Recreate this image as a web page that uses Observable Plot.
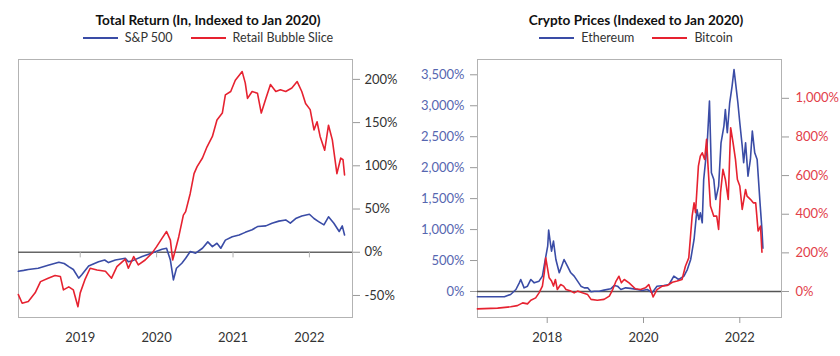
<!DOCTYPE html>
<html>
<head>
<meta charset="utf-8">
<script src="https://cdn.jsdelivr.net/npm/d3@7"></script>
<script src="https://cdn.jsdelivr.net/npm/@observablehq/plot@0.6"></script>
<style>
  body { margin: 0; background: #fff; font-family: Lato, "Open Sans", sans-serif; }
  #wrap { display: flex; width: 840px; height: 356px; }
  .panel { position: relative; width: 420px; height: 356px; }
  .title { position: absolute; top: 12px; left: 0; width: 420px; text-align: center;
           font-weight: 700; font-size: 13.6px; line-height: 16px; color: #111; }
  .legend { position: absolute; top: 31px; left: 0; width: 420px; display: flex;
            justify-content: center; align-items: center; font-size: 12.5px; line-height: 14px; color: #333; }
  .item { display: flex; align-items: center; margin: 0 9px; }
  .sw { display: inline-block; width: 35px; height: 2px; margin-right: 7px; }
  .chart { position: absolute; top: 50px; left: 0; }
</style>
</head>
<body>
<div id="wrap">
  <div class="panel" id="p1">
    <div class="title" style="padding-right:4px;box-sizing:border-box">Total Return (In, Indexed to Jan 2020)</div>
    <div class="legend" id="leg1" style="padding-right:4px;box-sizing:border-box"></div>
    <div class="chart" id="c1"></div>
  </div>
  <div class="panel" id="p2">
    <div class="title" style="padding-left:12px;box-sizing:border-box">Crypto Prices (Indexed to Jan 2020)</div>
    <div class="legend" id="leg2" style="padding-left:12px;box-sizing:border-box"></div>
    <div class="chart" id="c2"></div>
  </div>
</div>
<script>
// ---------------- Left panel data (decimal years, % vs Jan 2020) ----------------
const spxYears = [2018.19,2018.26,2018.32,2018.45,2018.58,2018.72,2018.79,2018.85,2018.91,2018.98,
  2019.02,2019.11,2019.24,2019.32,2019.37,2019.46,2019.59,2019.63,2019.68,2019.81,2019.94,
  2020.07,2020.13,2020.18,2020.22,2020.26,2020.33,2020.38,2020.44,2020.51,2020.60,2020.67,2020.73,
  2020.79,2020.84,2020.90,2020.99,2021.08,2021.16,2021.25,2021.32,2021.43,2021.51,2021.60,2021.69,
  2021.75,2021.82,2021.90,2022.00,2022.06,2022.12,2022.19,2022.25,2022.32,2022.39,2022.43,2022.46];
const spxValues = [-22,-21,-20,-18.5,-15,-11.5,-13,-16.6,-20,-30,
  -26,-16,-11,-9,-12,-9,-7,-11,-10,-5,-1,
  3.5,4.6,-9,-32,-18.5,-12.7,-7,0.8,-1,4.6,12,6.5,
  10.4,4.6,14,18,20,23,26,29.7,30.5,33.6,36,37.4,
  33.6,39,42,44,39,35.5,31.6,41,33.6,24,30.5,20];

const retailYears = [2018.19,2018.24,2018.32,2018.41,2018.48,2018.58,2018.67,2018.74,2018.78,2018.85,
  2018.91,2018.97,2019.00,2019.06,2019.13,2019.22,2019.33,2019.41,2019.48,2019.59,2019.63,2019.70,
  2019.76,2019.85,2019.94,2020.00,2020.07,2020.13,2020.18,2020.21,2020.24,2020.29,2020.35,2020.38,
  2020.44,2020.49,2020.53,2020.60,2020.66,2020.73,2020.79,2020.86,2020.90,2020.97,2021.03,2021.12,
  2021.16,2021.19,2021.25,2021.32,2021.37,2021.43,2021.49,2021.56,2021.62,2021.69,2021.77,2021.84,
  2021.90,2021.95,2022.01,2022.06,2022.10,2022.14,2022.20,2022.25,2022.30,2022.36,2022.41,2022.44,2022.46];
const retailValues = [-49,-59,-57,-47,-34,-30,-27,-28,-43.6,-40,
  -43.6,-63,-47,-32,-18.5,-20.5,-22,-30,-16.6,-8,-18.5,-5,
  -14.7,-9,-1,6.5,16,24,14,-9,0.8,18,43,47,
  68,91,99,109,122,134,153,161,182,186,199,209,
  196,178,186,184,161,178,194,186,188,186,190,197.5,
  186,172,165,141.6,151,134,118,147,130,91,109,107,89.5];

const leftXTicks = [2019, 2020, 2021, 2022];
const leftYTicks = [-50, 0, 50, 100, 150, 200];

// ---------------- Right panel data ----------------
const ethYears = [2016.55,2017.11,2017.24,2017.35,2017.42,2017.45,2017.52,2017.59,2017.66,2017.73,
  2017.83,2017.90,2017.96,2018.01,2018.03,2018.06,2018.09,2018.13,2018.18,2018.25,2018.30,2018.35,
  2018.42,2018.49,2018.56,2018.63,2018.70,2018.77,2018.84,2018.91,2018.98,2019.08,2019.18,2019.32,
  2019.39,2019.46,2019.53,2019.63,2019.73,2019.87,2019.97,2020.08,2020.18,2020.28,2020.42,2020.53,
  2020.63,2020.73,2020.84,2020.91,2020.98,2021.05,2021.11,2021.15,2021.18,2021.22,2021.25,2021.32,
  2021.37,2021.41,2021.46,2021.50,2021.56,2021.61,2021.67,2021.70,2021.74,2021.79,2021.84,2021.88,
  2021.92,2021.96,2022.00,2022.05,2022.08,2022.12,2022.17,2022.22,2022.26,2022.31,2022.36,2022.42,
  2022.46,2022.48];
const ethValues = [-86,-86,-48,32,140,194,59,86,194,140,
  167,248,517,732,991,813,652,813,517,302,409,517,
  409,302,248,167,86,59,59,-5,5,5,22,43,
  97,86,32,59,50,32,16,32,-21,86,97,113,
  248,194,248,355,517,840,1325,1163,1271,1109,1809,2348,
  3075,1917,1809,1486,1702,2402,2671,2940,2563,3048,3317,3586,
  3317,3048,2725,2348,2079,2402,1863,2133,2590,2240,2133,1432,
  1000,700];

const btcYears = [2016.55,2016.97,2017.24,2017.38,2017.49,2017.59,2017.66,2017.76,2017.83,2017.90,
  2017.94,2017.97,2018.01,2018.04,2018.09,2018.13,2018.17,2018.21,2018.28,2018.34,2018.39,2018.49,
  2018.56,2018.63,2018.73,2018.84,2018.91,2019.04,2019.18,2019.29,2019.36,2019.43,2019.49,2019.54,
  2019.60,2019.70,2019.83,2019.94,2020.04,2020.11,2020.20,2020.28,2020.39,2020.49,2020.60,2020.70,
  2020.80,2020.87,2020.94,2021.01,2021.05,2021.08,2021.14,2021.18,2021.22,2021.27,2021.31,2021.34,
  2021.39,2021.46,2021.52,2021.56,2021.60,2021.65,2021.70,2021.76,2021.81,2021.86,2021.91,2021.95,
  2022.00,2022.05,2022.12,2022.15,2022.22,2022.28,2022.33,2022.38,2022.43,2022.46];
const btcValues = [-90,-86,-79,-73,-59,-64,-45,-33,-7,28,
  97,174,114,71,54,28,62,10,36,28,10,2,
  -7,2,-7,-16,-41,-45,-41,-24,10,54,79,45,
  62,45,14,10,19,36,-28,10,28,31,48,54,
  62,131,174,390,459,408,649,701,718,684,788,649,
  442,390,390,321,511,632,580,477,848,770,684,580,
  546,425,528,494,477,459,459,313,338,204];

const rightXTicks = [2018, 2020, 2022];
const ethTicks = [0, 500, 1000, 1500, 2000, 2500, 3000, 3500];
const btcTicks = [0, 200, 400, 600, 800, 1000];

// ---------------- styles ----------------
const BLUE = "#3a4ca6", RED = "#e62230";
const ETH_LABEL = "#5666b0", BTC_LABEL = "#e2404a";
const K = 3.12; // bitcoin % -> ethereum-axis units (shared zero)

const zip = (xs, ys) => xs.map((x, i) => ({year: x, value: ys[i]}));
const spx = zip(spxYears, spxValues);
const retail = zip(retailYears, retailValues);
const eth = zip(ethYears, ethValues);
const btc = zip(btcYears, btcValues);
const fmtPct = d => d.toLocaleString("en-US") + "%";
const baseStyle = {fontFamily: "Lato, 'Open Sans', sans-serif", fontSize: "13px", color: "#333", background: "transparent", overflow: "visible"};

function legend(el, items) {
  el.innerHTML = items.map(([c, t]) =>
    `<span class="item"><span class="sw" style="background:${c}"></span>${t}</span>`).join("");
}
legend(document.getElementById("leg1"), [[BLUE, "S&amp;P 500"], [RED, "Retail Bubble Slice"]]);
legend(document.getElementById("leg2"), [[BLUE, "Ethereum"], [RED, "Bitcoin"]]);

const left = Plot.plot({
  width: 420, height: 306,
  marginTop: 9, marginBottom: 39, marginLeft: 18, marginRight: 68,
  style: baseStyle,
  x: {domain: [2018.192, 2022.564], label: null},
  y: {domain: [-75.5, 223], label: null},
  marks: [
    Plot.frame({stroke: "#b3b3b3"}),
    Plot.ruleY([0], {stroke: "#666", strokeWidth: 1.3}),
    Plot.ruleX(leftXTicks, {x: d => d, y1: 0, y2: -6.5, stroke: "#b0b0b0"}),
    Plot.axisX(leftXTicks, {tickSize: 0, tickPadding: 15, tickFormat: d => String(d), fill: "#333"}),
    Plot.axisY(leftYTicks, {anchor: "right", tickSize: 7, tickPadding: 5, tickFormat: fmtPct, stroke: "#999", fill: "#333"}),
    Plot.line(spx, {x: "year", y: "value", stroke: BLUE, strokeWidth: 1.6, strokeLinejoin: "round"}),
    Plot.line(retail, {x: "year", y: "value", stroke: RED, strokeWidth: 1.6, strokeLinejoin: "round"})
  ]
});
document.getElementById("c1").append(left);

const right = Plot.plot({
  width: 420, height: 306,
  marginTop: 9, marginBottom: 39, marginLeft: 57, marginRight: 59,
  style: baseStyle,
  x: {domain: [2016.552, 2022.866], label: null},
  y: {domain: [-420, 3747], label: null},
  marks: [
    Plot.frame({stroke: "#b3b3b3"}),
    Plot.ruleY([0], {stroke: "#555", strokeWidth: 1.3}),
    Plot.axisX(rightXTicks, {tickSize: 6, tickPadding: 9, tickFormat: d => String(d), stroke: "#999", fill: "#333"}),
    Plot.axisY(ethTicks, {anchor: "left", tickSize: 7, tickPadding: 6, tickFormat: fmtPct, stroke: "#999", fill: ETH_LABEL}),
    Plot.axisY(btcTicks.map(t => t * K), {anchor: "right", tickSize: 7, tickPadding: 7,
      tickFormat: d => fmtPct(Math.round(d / K)), stroke: "#999", fill: BTC_LABEL}),
    Plot.line(eth, {x: "year", y: "value", stroke: BLUE, strokeWidth: 1.6, strokeLinejoin: "round"}),
    Plot.line(btc, {x: "year", y: d => d.value * K, stroke: RED, strokeWidth: 1.6, strokeLinejoin: "round"})
  ]
});
document.getElementById("c2").append(right);
</script>
</body>
</html>
